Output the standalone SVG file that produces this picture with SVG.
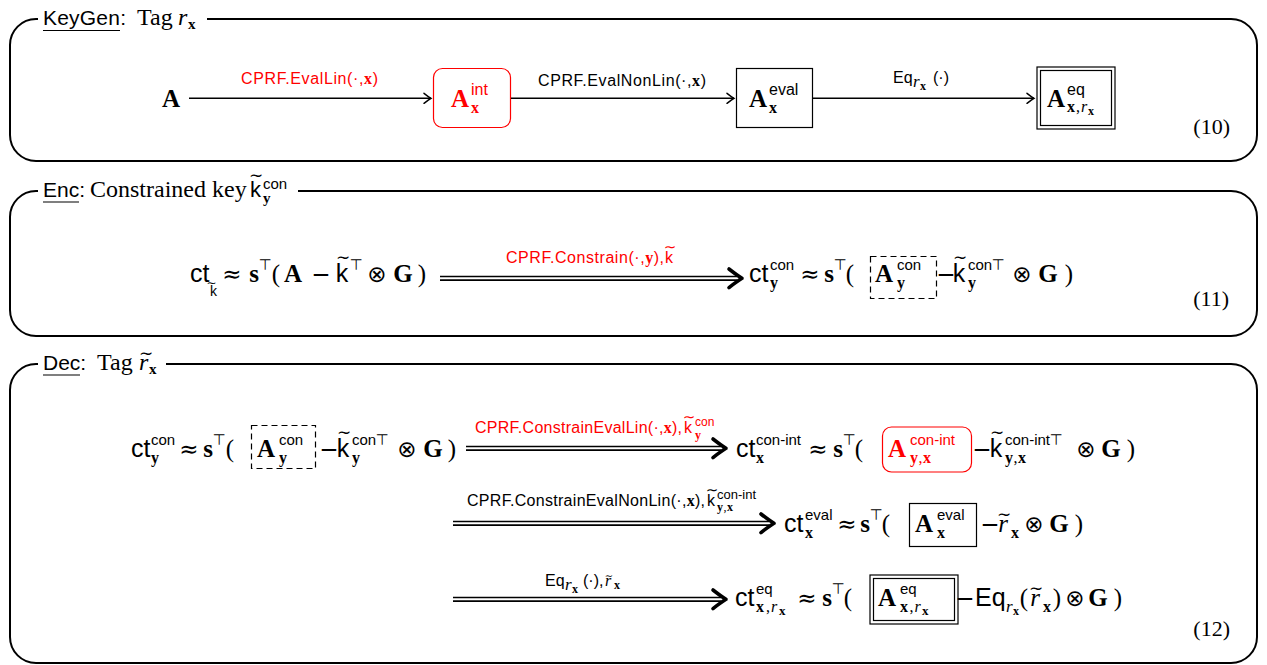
<svg xmlns="http://www.w3.org/2000/svg" width="1267" height="665" viewBox="0 0 1267 665">
<defs>
<marker id="oa" viewBox="-10 -7 12 14" refX="0" refY="0" markerWidth="12" markerHeight="14" markerUnits="userSpaceOnUse" orient="auto">
<path d="M-7,-5 Q-2,-1.2 0,0 Q-2,1.2 -7,5" fill="none" stroke="#000" stroke-width="1.5" stroke-linecap="round"/>
</marker>
</defs>
<style>
.fr{fill:none;stroke:#000;stroke-width:2}
.ln{stroke:#000;stroke-width:1.6;fill:none}
.dl{stroke:#000;stroke-width:1.7}
.ul{stroke:#000;stroke-width:1.2}
.bx{fill:#fff;stroke:#000;stroke-width:1.2}
.rb{fill:#fff;stroke:#f00;stroke-width:1.2}
.db{fill:none;stroke:#000;stroke-width:1.2;stroke-dasharray:6 4}
.ch{fill:none;stroke:#000;stroke-width:3.6;stroke-linecap:round;stroke-linejoin:round}
text{fill:#000}
.sf{font-family:"Liberation Sans",Arial,sans-serif}
.rm{font-family:"Liberation Serif","Times New Roman",serif}
.bf{font-family:"Liberation Serif","Times New Roman",serif;font-weight:bold}
.it{font-family:"Liberation Serif","Times New Roman",serif;font-style:italic}
.sy{font-family:"DejaVu Sans",sans-serif}
.c{text-anchor:middle}
.e{text-anchor:end}
.red{fill:#f00}
.M{font-size:25px}
.S{font-size:16px}
.P{font-size:15px}
.L{font-size:16px}
.op{font-family:"DejaVu Sans",sans-serif;font-size:23px;text-anchor:middle}
.tp{font-family:"DejaVu Sans",sans-serif;font-size:15px;text-anchor:middle}
.tl{font-family:"DejaVu Sans",sans-serif;font-size:17px;text-anchor:middle}
</style>

<!-- Panel frames and titles -->
<g id="panel-keygen">
<path class="fr" d="M207,19 H1231 A26,26 0 0 1 1257,45 V135 A26,26 0 0 1 1231,161 H36 A26,26 0 0 1 10,135 V45 A26,26 0 0 1 36,19 H38"/>
<line class="ul" x1="43" y1="30.5" x2="120" y2="30.5"/>
<text y="25"><tspan class="sf" font-size="21" x="43" y="25" textLength="83">KeyGen:</tspan><tspan class="rm" font-size="24" x="137" y="25">Tag</tspan><tspan class="it" font-size="24" x="178" y="25">r</tspan><tspan class="bf" font-size="15" x="188" y="29">x</tspan></text>
</g>

<g id="panel-enc">
<path class="fr" d="M298,191 H1231 A26,26 0 0 1 1257,217 V310 A26,26 0 0 1 1231,336 H36 A26,26 0 0 1 10,310 V217 A26,26 0 0 1 36,191 H38"/>
<line class="ul" x1="43" y1="202" x2="79" y2="202"/>
<text y="197"><tspan class="sf" font-size="21" x="43" y="197">Enc:</tspan><tspan class="rm" font-size="24" x="90" y="197">Constrained key</tspan><tspan class="sf" font-size="22" x="250" y="197">k</tspan><tspan class="tl" x="256" y="181">∼</tspan><tspan class="sf" font-size="15" x="263" y="189">con</tspan><tspan class="bf" font-size="15" x="263" y="203">y</tspan></text>
</g>

<g id="panel-dec">
<path class="fr" d="M166,364 H1231 A26,26 0 0 1 1257,390 V637 A26,26 0 0 1 1231,663 H36 A26,26 0 0 1 10,637 V390 A26,26 0 0 1 36,364 H38"/>
<line class="ul" x1="43" y1="375" x2="80" y2="375"/>
<text y="370"><tspan class="sf" font-size="21" x="43" y="370">Dec:</tspan><tspan class="rm" font-size="24" x="97" y="370">Tag</tspan><tspan class="it" font-size="24" x="139" y="370">r</tspan><tspan class="tl" x="146" y="359">∼</tspan><tspan class="bf" font-size="15" x="149" y="374">x</tspan></text>
</g>

<!-- Panel 1 nodes -->
<g id="n-A">
<text class="bf c M" x="171" y="107">A</text>
</g>
<g id="n-Aint">
<rect class="rb" x="433.5" y="68.5" width="77" height="59" rx="9"/>
<text class="red"><tspan class="bf c M" x="460" y="107">A</tspan><tspan class="sf S" x="471" y="95">int</tspan><tspan class="bf S" x="471" y="113">x</tspan></text>
</g>
<g id="n-Aeval">
<rect class="bx" x="736.5" y="68.5" width="76" height="59"/>
<text><tspan class="bf c M" x="758" y="107">A</tspan><tspan class="sf S" x="769" y="95">eval</tspan><tspan class="bf S" x="769" y="113">x</tspan></text>
</g>
<g id="n-Aeq">
<rect class="bx" x="1037" y="67" width="78" height="62"/>
<rect class="bx" x="1040.5" y="70.5" width="71" height="55"/>
<text><tspan class="bf c M" x="1056" y="107">A</tspan><tspan class="sf S" x="1067" y="95">eq</tspan><tspan class="bf S" x="1067" y="112">x</tspan><tspan class="rm S" x="1076" y="112">,</tspan><tspan class="it S" x="1081" y="112">r</tspan><tspan class="bf" font-size="12" x="1088" y="115">x</tspan></text>
</g>
<g id="eq10"><text class="rm e" font-size="22" x="1230" y="134">(10)</text></g>

<!-- Panel 2 nodes -->
<g id="n-ct-k">
<text>
<tspan class="sf M" x="190" y="282">ct</tspan>
<tspan class="sf" font-size="14" x="210" y="296">k</tspan>
<tspan class="sy c" font-size="12" x="213.5" y="287">∼</tspan>
<tspan class="op" x="234" y="282">≈</tspan>
<tspan class="bf c M" x="256" y="282">s</tspan>
<tspan class="tp" x="267" y="270">⊤</tspan>
<tspan class="rm c M" x="278" y="282">(</tspan>
<tspan class="bf c M" x="295" y="282">A</tspan>
<tspan class="op" x="323" y="282">−</tspan>
<tspan class="sf c M" x="344" y="282">k</tspan>
<tspan class="tl" x="345" y="263">∼</tspan>
<tspan class="tp" x="358" y="270">⊤</tspan>
<tspan class="op" x="379" y="282">⊗</tspan>
<tspan class="bf c M" x="405" y="282">G</tspan>
<tspan class="rm c M" x="422" y="282">)</tspan>
</text>
</g>
<g id="n-ct-con">
<rect class="db" x="870.5" y="256.5" width="66" height="42"/>
<text>
<tspan class="sf M" x="749" y="282">ct</tspan>
<tspan class="sf P" x="770" y="270">con</tspan>
<tspan class="bf S" x="770" y="288">y</tspan>
<tspan class="op" x="812" y="282">≈</tspan>
<tspan class="bf c M" x="831" y="282">s</tspan>
<tspan class="tp" x="842" y="270">⊤</tspan>
<tspan class="rm c M" x="852" y="282">(</tspan>
<tspan class="bf c M" x="886" y="282">A</tspan>
<tspan class="sf P" x="897" y="270">con</tspan>
<tspan class="bf S" x="897" y="288">y</tspan>
<tspan class="op" x="948" y="282">−</tspan>
<tspan class="sf c M" x="961" y="282">k</tspan>
<tspan class="tl" x="962" y="263">∼</tspan>
<tspan class="sf P" x="968" y="270">con</tspan>
<tspan class="tp" x="1000" y="270">⊤</tspan>
<tspan class="bf S" x="968" y="288">y</tspan>
<tspan class="op" x="1024" y="282">⊗</tspan>
<tspan class="bf c M" x="1050" y="282">G</tspan>
<tspan class="rm c M" x="1069" y="282">)</tspan>
</text>
</g>
<g id="eq11"><text class="rm e" font-size="22" x="1229" y="306">(11)</text></g>

<!-- Panel 3 nodes -->
<g id="n-dec-ctcon">
<rect class="db" x="251.5" y="425.5" width="64" height="43"/>
<text>
<tspan class="sf M" x="131" y="457">ct</tspan>
<tspan class="sf P" x="151" y="445">con</tspan>
<tspan class="bf S" x="151" y="463">y</tspan>
<tspan class="op" x="191" y="457">≈</tspan>
<tspan class="bf c M" x="210" y="457">s</tspan>
<tspan class="tp" x="221" y="445">⊤</tspan>
<tspan class="rm c M" x="232" y="457">(</tspan>
<tspan class="bf c M" x="268" y="457">A</tspan>
<tspan class="sf P" x="279" y="445">con</tspan>
<tspan class="bf S" x="279" y="463">y</tspan>
<tspan class="op" x="331" y="457">−</tspan>
<tspan class="sf c M" x="345" y="457">k</tspan>
<tspan class="tl" x="346" y="438">∼</tspan>
<tspan class="sf P" x="352" y="445">con</tspan>
<tspan class="tp" x="384" y="445">⊤</tspan>
<tspan class="bf S" x="352" y="463">y</tspan>
<tspan class="op" x="409" y="457">⊗</tspan>
<tspan class="bf c M" x="435" y="457">G</tspan>
<tspan class="rm c M" x="452" y="457">)</tspan>
</text>
</g>
<g id="n-ct-conint">
<rect class="rb" x="882.5" y="427" width="89" height="45" rx="9"/>
<text>
<tspan class="sf M" x="736" y="457">ct</tspan>
<tspan class="sf P" x="756" y="445">con-int</tspan>
<tspan class="bf S" x="756" y="463">x</tspan>
<tspan class="op" x="820" y="457">≈</tspan>
<tspan class="bf c M" x="840" y="457">s</tspan>
<tspan class="tp" x="851" y="445">⊤</tspan>
<tspan class="rm c M" x="861" y="457">(</tspan>
<tspan class="bf c M red" x="899" y="457">A</tspan>
<tspan class="sf P red" x="910" y="445">con-int</tspan>
<tspan class="bf S red" x="910" y="463">y</tspan>
<tspan class="rm S red" x="918.5" y="463">,</tspan>
<tspan class="bf S red" x="923" y="463">x</tspan>
<tspan class="op" x="984" y="457">−</tspan>
<tspan class="sf c M" x="998" y="457">k</tspan>
<tspan class="tl" x="999" y="438">∼</tspan>
<tspan class="sf P" x="1005" y="445">con-int</tspan>
<tspan class="tp" x="1058" y="445">⊤</tspan>
<tspan class="bf S" x="1005" y="463">y</tspan>
<tspan class="rm S" x="1013.5" y="463">,</tspan>
<tspan class="bf S" x="1018" y="463">x</tspan>
<tspan class="op" x="1088" y="457">⊗</tspan>
<tspan class="bf c M" x="1113" y="457">G</tspan>
<tspan class="rm c M" x="1131" y="457">)</tspan>
</text>
</g>
<g id="n-ct-eval">
<rect class="bx" x="909.5" y="503.5" width="67" height="43"/>
<text>
<tspan class="sf M" x="784" y="532">ct</tspan>
<tspan class="sf P" x="805" y="520">eval</tspan>
<tspan class="bf S" x="805" y="538">x</tspan>
<tspan class="op" x="849" y="532">≈</tspan>
<tspan class="bf c M" x="867" y="532">s</tspan>
<tspan class="tp" x="878" y="520">⊤</tspan>
<tspan class="rm c M" x="888" y="532">(</tspan>
<tspan class="bf c M" x="926" y="532">A</tspan>
<tspan class="sf P" x="937" y="520">eval</tspan>
<tspan class="bf S" x="937" y="538">x</tspan>
<tspan class="op" x="992" y="532">−</tspan>
<tspan class="it c M" x="1005" y="532">r</tspan>
<tspan class="tl" x="1006" y="520">∼</tspan>
<tspan class="bf S" x="1011" y="538">x</tspan>
<tspan class="op" x="1036" y="532">⊗</tspan>
<tspan class="bf c M" x="1061" y="532">G</tspan>
<tspan class="rm c M" x="1079" y="532">)</tspan>
</text>
</g>
<g id="n-ct-eq">
<rect class="bx" x="870" y="575" width="88" height="49"/>
<rect class="bx" x="873.5" y="578.5" width="81" height="42"/>
<text>
<tspan class="sf M" x="735" y="606">ct</tspan>
<tspan class="sf P" x="756" y="594">eq</tspan>
<tspan class="bf S" x="756" y="612">x</tspan>
<tspan class="rm S" x="766" y="612">,</tspan>
<tspan class="it S" x="771" y="612">r</tspan>
<tspan class="bf" font-size="13" x="779" y="615">x</tspan>
<tspan class="op" x="809" y="606">≈</tspan>
<tspan class="bf c M" x="829" y="606">s</tspan>
<tspan class="tp" x="840" y="594">⊤</tspan>
<tspan class="rm c M" x="850" y="606">(</tspan>
<tspan class="bf c M" x="889" y="606">A</tspan>
<tspan class="sf P" x="900" y="594">eq</tspan>
<tspan class="bf S" x="900" y="612">x</tspan>
<tspan class="rm S" x="909.5" y="612">,</tspan>
<tspan class="it S" x="914.5" y="612">r</tspan>
<tspan class="bf" font-size="13" x="922" y="615">x</tspan>
<tspan class="op" x="967" y="606">−</tspan>
<tspan class="sf M" x="975" y="606">Eq</tspan>
<tspan class="it" font-size="17" x="1006" y="612">r</tspan>
<tspan class="bf" font-size="12" x="1013" y="615">x</tspan>
<tspan class="rm c M" x="1026" y="606">(</tspan>
<tspan class="it c M" x="1037" y="606">r</tspan>
<tspan class="tl" x="1038" y="594">∼</tspan>
<tspan class="bf S" x="1043" y="612">x</tspan>
<tspan class="rm c M" x="1059" y="606">)</tspan>
<tspan class="op" x="1077" y="606">⊗</tspan>
<tspan class="bf c M" x="1100" y="606">G</tspan>
<tspan class="rm c M" x="1118" y="606">)</tspan>
</text>
</g>
<g id="eq12"><text class="rm e" font-size="22" x="1230" y="636">(12)</text></g>

<!-- Connectors -->
<g id="connectors">
<line class="ln" x1="189" y1="98.3" x2="431" y2="98.3" marker-end="url(#oa)"/>
<text class="sf L red" x="241" y="84" textLength="137">CPRF.EvalLin(·,<tspan class="bf">x</tspan>)</text>
<line class="ln" x1="511" y1="98.3" x2="734" y2="98.3" marker-end="url(#oa)"/>
<text class="sf L" x="538" y="86" textLength="168">CPRF.EvalNonLin(·,<tspan class="bf">x</tspan>)</text>
<line class="ln" x1="813" y1="98.3" x2="1034" y2="98.3" marker-end="url(#oa)"/>
<text><tspan class="sf L" x="893" y="83">Eq</tspan><tspan class="it" font-size="17" x="913" y="87">r</tspan><tspan class="bf" font-size="12" x="920" y="90">x</tspan><tspan class="sf L" x="933" y="83">(·)</tspan></text>

<line class="dl" x1="440" y1="276.5" x2="737" y2="276.5"/>
<line class="dl" x1="440" y1="280.1" x2="737" y2="280.1"/>
<path class="ch" d="M729,269 Q738,276 742,278.3 Q738,280.6 729,287.6"/>
<text class="red"><tspan class="sf L" x="506" y="263" textLength="158">CPRF.Constrain(·,<tspan class="bf">y</tspan>),</tspan><tspan class="sf L" x="665" y="263">k</tspan><tspan class="sy c" font-size="15" x="670" y="252">∼</tspan></text>

<line class="dl" x1="466" y1="446.5" x2="721" y2="446.5"/>
<line class="dl" x1="466" y1="450.1" x2="721" y2="450.1"/>
<path class="ch" d="M713,439 Q722,446 726,448.3 Q722,450.6 713,457.6"/>
<text class="red"><tspan class="sf L" x="475" y="433" textLength="207">CPRF.ConstrainEvalLin(·,<tspan class="bf">x</tspan>),</tspan><tspan class="sf L" x="684" y="433">k</tspan><tspan class="sy c" font-size="15" x="689" y="422">∼</tspan><tspan class="sf" font-size="12" x="695" y="426">con</tspan><tspan class="bf" font-size="12" x="695" y="439">y</tspan></text>

<line class="dl" x1="453" y1="521.5" x2="769" y2="521.5"/>
<line class="dl" x1="453" y1="525.1" x2="769" y2="525.1"/>
<path class="ch" d="M761,514 Q770,521 774,523.3 Q770,525.6 761,532.6"/>
<text><tspan class="sf L" x="467" y="506" textLength="238">CPRF.ConstrainEvalNonLin(·,<tspan class="bf">x</tspan>),</tspan><tspan class="sf L" x="707" y="506">k</tspan><tspan class="sy c" font-size="15" x="712" y="495">∼</tspan><tspan class="sf" font-size="13" x="717" y="499">con-int</tspan><tspan class="bf" font-size="12" x="717" y="511">y</tspan><tspan class="rm" font-size="12" x="723.5" y="511">,</tspan><tspan class="bf" font-size="12" x="727" y="511">x</tspan></text>

<line class="dl" x1="453" y1="597.5" x2="721" y2="597.5"/>
<line class="dl" x1="453" y1="601.1" x2="721" y2="601.1"/>
<path class="ch" d="M713,590 Q722,597 726,599.3 Q722,601.6 713,608.6"/>
<text><tspan class="sf L" x="545" y="586">Eq</tspan><tspan class="it" font-size="17" x="565" y="590">r</tspan><tspan class="bf" font-size="12" x="572" y="593">x</tspan><tspan class="sf L" x="583" y="586">(·),</tspan><tspan class="it L" x="605" y="586">r</tspan><tspan class="sy c" font-size="10" x="609" y="579">∼</tspan><tspan class="bf" font-size="12" x="614" y="589">x</tspan></text>
</g>
</svg>
